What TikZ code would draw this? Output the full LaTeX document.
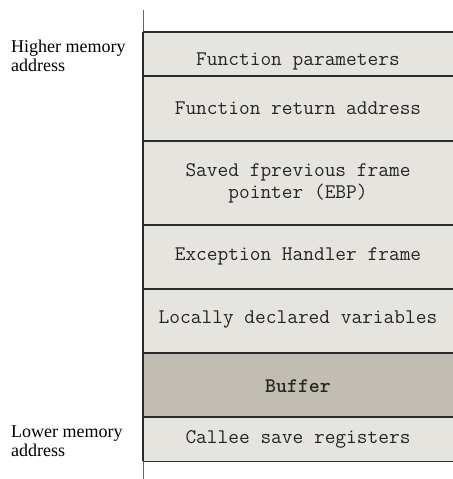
\documentclass[tikz,border=0pt]{standalone}
\usepackage{fontspec}
\setmainfont{Liberation Serif}
\definecolor{cellfill}{HTML}{E6E4DF}
\definecolor{buffill}{HTML}{C1BDB2}
\definecolor{edge}{HTML}{2B2B2B}
\begin{document}
\begin{tikzpicture}[x=1bp,y=-1bp,
  rowbox/.style={rectangle,inner sep=0pt,minimum width=310bp,anchor=north west,fill=cellfill},
  cell/.style={inner sep=0pt,align=center,font=\ttfamily\fontsize{20.8bp}{22bp}\selectfont,text=black!85},
  side/.style={inner sep=0pt,align=left,anchor=west,font=\fontsize{18bp}{19bp}\selectfont},
  border/.style={draw=edge,line width=1.4bp},
  stub/.style={draw=black!60,line width=0.8bp}]
\useasboundingbox (0,0) rectangle (453,479);
% rows
\node[rowbox,minimum height=44bp] (r1) at (143,32) {};
\node[rowbox,minimum height=65bp] (r2) at (143,76) {};
\node[rowbox,minimum height=84bp] (r3) at (143,141) {};
\node[rowbox,minimum height=64bp] (r4) at (143,225) {};
\node[rowbox,minimum height=64bp] (r5) at (143,289) {};
\node[rowbox,minimum height=64bp,fill=buffill] (r6) at (143,353) {};
\node[rowbox,minimum height=44bp] (r7) at (143,417) {};
% texts
\node[cell] (t1) at (298,61) {Function parameters};
\node[cell] (t2) at (298,108) {Function return address};
\node[cell] (t3) at (298,183) {Saved fprevious frame\\pointer (EBP)};
\node[cell] (t4) at (298,256) {Exception Handler frame};
\node[cell] (t5) at (298,320) {Locally declared variables};
\node[cell] (t6) at (298,386) {\bfseries Buffer};
\node[cell] (t7) at (298,439) {Callee save registers};
% side labels
\node[side] (hi) at (11,56) {Higher memory\\address};
\node[side] (lo) at (11,441) {Lower memory\\address};
% lines
\coordinate (topend) at (143,10);
\coordinate (botend) at (143,479);
\draw[stub] (topend) -- (r1.north west);
\draw[stub] (r7.south west) -- (botend);
\foreach \r in {r1,r2,r3,r4,r5,r6,r7}{
  \draw[border] (\r.north west) -- (\r.north east);
}
\draw[border] (r7.south west) -- (r7.south east);
\draw[border] (r1.north west) -- (r7.south west);
\end{tikzpicture}
\end{document}
